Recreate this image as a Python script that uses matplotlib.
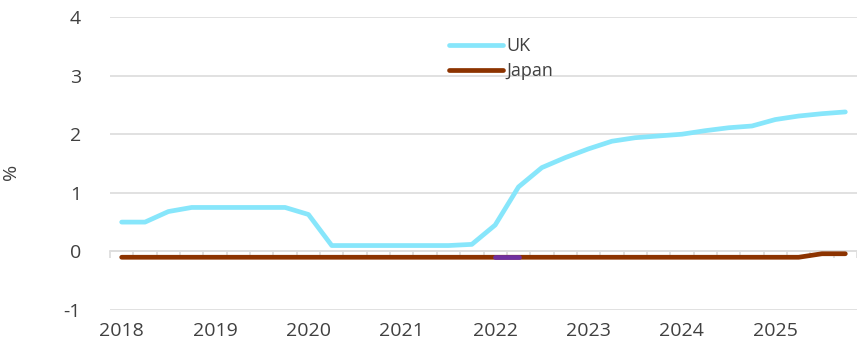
import matplotlib.pyplot as plt
import numpy as np

# quarterly, 2018Q1 .. 2025Q4
quarters = [f"{y}Q{q}" for y in range(2018, 2026) for q in range(1, 5)]
year_labels = ["2018", "2019", "2020", "2021", "2022", "2023", "2024", "2025"]

uk = [0.50, 0.50, 0.68, 0.75, 0.75, 0.75, 0.75, 0.75,
      0.63, 0.10, 0.10, 0.10, 0.10, 0.10, 0.10, 0.12,
      0.45, 1.10, 1.43, 1.60, 1.75, 1.88, 1.94, 1.97,
      2.00, 2.06, 2.11, 2.14, 2.25, 2.31, 2.35, 2.38]
japan = [-0.10] * 29 + [-0.10, -0.04, -0.04]
# short purple piece on top of the Japan line (no legend entry)
other = [None] * 16 + [-0.10, -0.10] + [None] * 14

UK_COL = "#87e6fb"
JP_COL = "#8c3300"
OT_COL = "#7030a0"
GRID = "#dedede"
TXT = "#404040"

plt.rcParams["font.family"] = ["Open Sans", "DejaVu Sans"]
plt.rcParams["axes.unicode_minus"] = False

fig = plt.figure(figsize=(8.57, 3.51), dpi=100)
ax = fig.add_axes([110 / 857, 1 - 310 / 351, 747 / 857, 293 / 351])

x = np.arange(len(quarters))
ax.plot(x, uk, color=UK_COL, lw=3.4, solid_capstyle="round", label="UK", zorder=3)
ax.plot(x, japan, color=JP_COL, lw=3.4, solid_capstyle="round", label="Japan", zorder=3)
oth = np.array([np.nan if v is None else v for v in other])
ax.plot(x, oth, color=OT_COL, lw=3.4, solid_capstyle="round", zorder=4)

ax.set_ylim(-1, 4)
ax.set_xlim(-0.5, len(quarters) - 0.5)
ax.set_yticks(range(-1, 5))
ax.grid(axis="y", color=GRID, lw=1.3)
ax.set_axisbelow(True)
for s in ax.spines.values():
    s.set_visible(False)

ax.set_xticks(x[::4])
ax.set_xticklabels(year_labels)
ax.tick_params(axis="x", length=0, pad=9, labelsize=14, labelcolor=TXT)
ax.tick_params(axis="y", length=0, pad=21, labelsize=14, labelcolor=TXT)

# category axis crossing at zero with tick marks between quarters
sec = ax.secondary_xaxis(0.2)
sec.set_xticks(np.arange(-0.5, len(quarters), 1.0))
sec.tick_params(axis="x", direction="out", length=5, color=GRID, width=1.3, labelbottom=False)
sec.spines["bottom"].set_color(GRID)
sec.spines["bottom"].set_linewidth(1.3)

ax.set_ylabel("%", fontsize=14, color=TXT)
ax.yaxis.set_label_coords(-90 / 747, 0.47)

ax.legend(loc="upper left", bbox_to_anchor=(440 / 857, 1 - 28 / 351),
          bbox_transform=fig.transFigure, frameon=False, fontsize=13,
          handlelength=3.0, handletextpad=0.2, labelspacing=0.4, borderpad=0,
          labelcolor=TXT)

fig.savefig("out.png", dpi=100)
